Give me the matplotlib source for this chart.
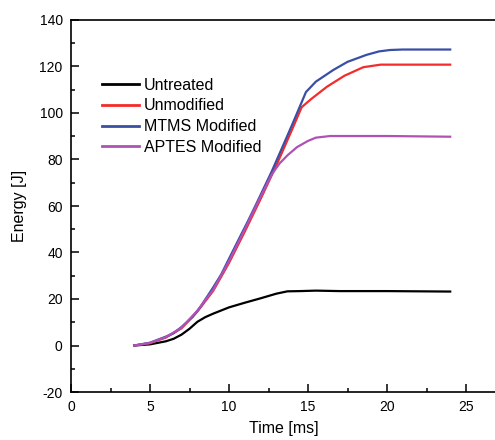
import matplotlib
matplotlib.use("Agg")
import matplotlib.pyplot as plt
from matplotlib.ticker import MultipleLocator

plt.rcParams['font.family'] = ['Liberation Sans', 'DejaVu Sans']
plt.rcParams['axes.unicode_minus'] = False

# Data (time in ms, energy in J)
t_untreated = [4, 5, 6, 6.5, 7, 7.5, 8, 8.5, 9, 10, 11, 12, 13, 13.7, 14.5, 15.5, 17, 20, 24]
e_untreated = [0, 0.5, 1.8, 2.9, 4.7, 7.2, 10.2, 12.2, 13.7, 16.4, 18.4, 20.3, 22.3, 23.3, 23.4, 23.6, 23.4, 23.4, 23.2]

t_unmod = [4, 5, 6, 7, 8, 9, 10, 11, 12, 13, 14, 14.6, 15.2, 16.2, 17.3, 18.5, 19.6, 24]
e_unmod = [0, 1.0, 3.4, 7.4, 14.6, 23.5, 35.5, 49, 63, 77.5, 93, 102.5, 106, 111.3, 116, 119.7, 120.8, 120.8]

t_mtms = [4, 5, 6, 6.5, 7, 7.7, 8.2, 9, 9.5, 10, 10.7, 11.2, 11.75, 12.7, 13.3, 14, 14.87, 15.5, 16.6, 17.5, 18.7, 19.5, 20.2, 21, 24]
e_mtms = [0, 1.2, 3.8, 5.3, 8, 12.3, 16.7, 25, 30.5, 37.3, 46.8, 53.5, 61.2, 74.8, 84.1, 95, 109, 113.5, 118.5, 122, 125, 126.5, 127.1, 127.3, 127.3]

t_aptes = [4, 5, 6, 7, 8, 9, 10, 11, 12, 12.7, 13.2, 13.7, 14.3, 15, 15.5, 16.4, 20, 24]
e_aptes = [0, 1.1, 3.6, 7.7, 15, 24, 36.3, 50, 64, 73.5, 78.3, 81.8, 85.3, 88, 89.4, 90.1, 90.1, 89.8]

labels = ["Untreated", "Unmodified", "MTMS Modified", "APTES Modified"]
colors = ["#000000", "#f52a2a", "#3a4ea6", "#b052b4"]

fig = plt.figure(figsize=(4.95, 4.40), dpi=100)
ax = fig.add_axes([71/495, 1 - 392/440, 426.6/495, 372/440])

series = [(t_untreated, e_untreated), (t_unmod, e_unmod), (t_mtms, e_mtms), (t_aptes, e_aptes)]
for (t, e), lab, c in zip(series, labels, colors):
    ax.plot(t, e, color=c, lw=1.6, label=lab)

ax.set_xlim(0, 27)
ax.set_ylim(-20, 140)
ax.xaxis.set_major_locator(MultipleLocator(5))
ax.xaxis.set_minor_locator(MultipleLocator(2.5))
ax.yaxis.set_major_locator(MultipleLocator(20))
ax.yaxis.set_minor_locator(MultipleLocator(10))
ax.tick_params(which='both', direction='in', top=False, right=False, labelsize=10, width=1.1)
ax.tick_params(which='major', length=6, pad=6)
ax.tick_params(which='minor', length=3)
for s in ax.spines.values():
    s.set_linewidth(1.2)

ax.set_xlabel("Time [ms]", fontsize=11.5, labelpad=5)
ax.set_ylabel("Energy [J]", fontsize=11.5, labelpad=9)

leg = ax.legend(loc='upper left', bbox_to_anchor=(0.058, 0.862), frameon=False,
                fontsize=11.5, handlelength=2.3, handletextpad=0.3, labelspacing=0.36,
                borderaxespad=0)
for h in leg.get_lines():
    h.set_linewidth(2)

fig.savefig("out.png", dpi=100)
